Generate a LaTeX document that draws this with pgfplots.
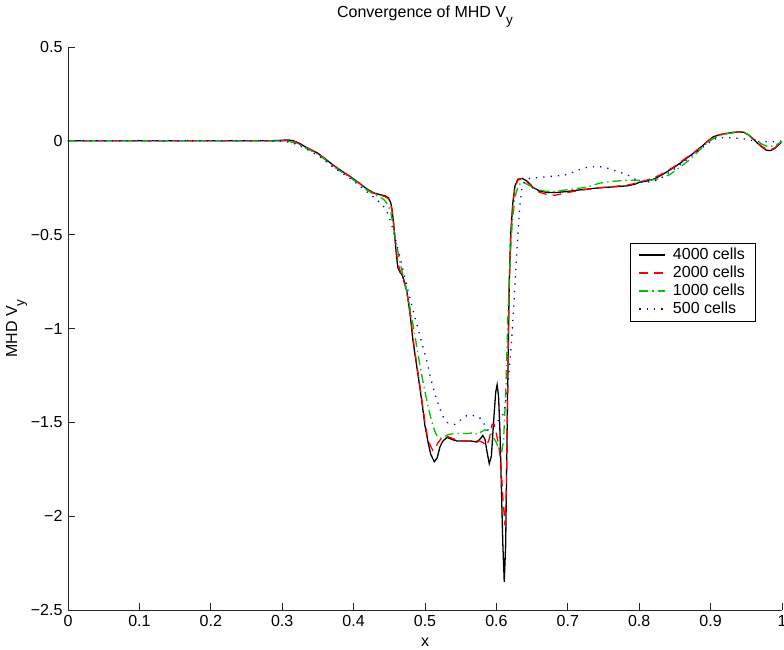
\documentclass[border=0pt]{standalone}
\usepackage{fontspec}
\setmainfont{Liberation Sans}
\usepackage{pgfplots}
\pgfplotsset{compat=1.18}
\definecolor{mgreen}{rgb}{0,0.75,0}
\newcommand\subt[1]{\raisebox{-0.45em}{\fontsize{13.5bp}{14bp}\selectfont #1}}
\begin{document}
\fontsize{16bp}{19bp}\selectfont
\begin{tikzpicture}
\begin{axis}[
  scale only axis, width=714bp, height=563bp,
  xmin=0, xmax=1, ymin=-2.5, ymax=0.5,
  axis x line=bottom, axis y line=left,
  axis line style={-, line width=0.8bp, black!85},
  tick align=inside, major tick length=7bp,
  every tick/.style={line width=0.8bp, black!85},
  xtick={0,0.1,0.2,0.3,0.4,0.5,0.6,0.7,0.8,0.9,1},
  xticklabels={0,0.1,0.2,0.3,0.4,0.5,0.6,0.7,0.8,0.9,1},
  ytick={-2.5,-2,-1.5,-1,-0.5,0,0.5},
  yticklabels={−2.5,−2,−1.5,−1,−0.5,0,0.5},
  ticklabel style={font=\fontsize{16bp}{19bp}\selectfont},
  title={Convergence of MHD V\subt{y}},
  title style={at={(axis description cs:0.5,1.044)}, anchor=center, font=\fontsize{16bp}{19bp}\selectfont},
  xlabel={x},
  xlabel style={at={(axis description cs:0.5,-0.057)}, anchor=center, font=\fontsize{16bp}{19bp}\selectfont},
  ylabel={MHD V\subt{y}},
  ylabel style={at={(axis description cs:-0.072,0.5)}, anchor=center, rotate=0, font=\fontsize{16bp}{19bp}\selectfont},
  legend style={at={(axis description cs:0.787,0.652)}, anchor=north west,
    draw=black, line width=0.8bp, fill=white,
    font=\fontsize{16bp}{18bp}\selectfont,
    inner xsep=8bp, inner ysep=3bp, row sep=0bp},
  legend cell align=left,
  legend image code/.code={\draw[#1, line width=2bp] (0bp,0bp) -- (26bp,0bp); \path (31bp,0bp);},
  every axis plot/.append style={line width=1.3bp},
]
\addplot[black, solid] coordinates {
(0,0) (0.1,0) (0.2,0) (0.28,0) (0.295,0.002) (0.308,0.005) (0.316,0.0) (0.325,-0.015) (0.335,-0.038) (0.349,-0.064) (0.36,-0.095) (0.371,-0.128) (0.383,-0.16) (0.395,-0.19) (0.407,-0.223) (0.418,-0.255) (0.428,-0.277) (0.437,-0.287) (0.444,-0.293) (0.449,-0.305) (0.452,-0.33) (0.454,-0.37) (0.456,-0.44) (0.458,-0.527) (0.460,-0.61) (0.462,-0.675) (0.465,-0.70) (0.468,-0.715) (0.472,-0.76) (0.475,-0.81) (0.479,-0.92) (0.483,-1.06) (0.488,-1.19) (0.493,-1.32) (0.497,-1.43) (0.500,-1.52) (0.504,-1.60) (0.508,-1.67) (0.513,-1.71) (0.517,-1.69) (0.521,-1.63) (0.525,-1.60) (0.531,-1.58) (0.537,-1.59) (0.545,-1.60) (0.555,-1.60) (0.565,-1.60) (0.573,-1.605) (0.578,-1.585) (0.581,-1.57) (0.584,-1.59) (0.587,-1.66) (0.590,-1.72) (0.593,-1.68) (0.596,-1.50) (0.599,-1.34) (0.601,-1.30) (0.603,-1.36) (0.605,-1.55) (0.607,-1.85) (0.609,-2.15) (0.611,-2.35) (0.613,-2.15) (0.614,-1.85) (0.616,-1.25) (0.618,-0.75) (0.620,-0.50) (0.623,-0.33) (0.626,-0.24) (0.630,-0.205) (0.636,-0.20) (0.643,-0.215) (0.652,-0.25) (0.661,-0.268) (0.671,-0.275) (0.685,-0.275) (0.699,-0.27) (0.72,-0.26) (0.745,-0.25) (0.765,-0.245) (0.783,-0.24) (0.793,-0.232) (0.801,-0.22) (0.810,-0.215) (0.820,-0.205) (0.830,-0.185) (0.839,-0.165) (0.848,-0.143) (0.857,-0.12) (0.866,-0.094) (0.876,-0.066) (0.886,-0.035) (0.895,-0.005) (0.904,0.022) (0.913,0.033) (0.923,0.04) (0.932,0.045) (0.941,0.048) (0.947,0.045) (0.953,0.032) (0.959,0.012) (0.965,-0.01) (0.972,-0.033) (0.978,-0.05) (0.984,-0.052) (0.990,-0.04) (0.995,-0.022) (1.0,-0.005)
};
\addlegendentry{4000 cells}
\addplot[red, dash pattern=on 9bp off 6bp] coordinates {
(0,0) (0.1,0) (0.2,0) (0.28,0) (0.30,0.0) (0.31,0.001) (0.318,-0.005) (0.328,-0.025) (0.338,-0.042) (0.349,-0.066) (0.36,-0.097) (0.371,-0.13) (0.383,-0.16) (0.395,-0.19) (0.407,-0.223) (0.418,-0.256) (0.428,-0.279) (0.437,-0.29) (0.444,-0.297) (0.449,-0.31) (0.452,-0.335) (0.455,-0.40) (0.458,-0.51) (0.461,-0.62) (0.464,-0.68) (0.468,-0.72) (0.472,-0.77) (0.476,-0.84) (0.480,-0.94) (0.484,-1.07) (0.488,-1.18) (0.493,-1.31) (0.497,-1.42) (0.500,-1.50) (0.503,-1.57) (0.507,-1.62) (0.511,-1.65) (0.514,-1.64) (0.518,-1.61) (0.524,-1.58) (0.531,-1.575) (0.538,-1.585) (0.545,-1.595) (0.553,-1.60) (0.565,-1.60) (0.577,-1.60) (0.582,-1.61) (0.586,-1.625) (0.590,-1.59) (0.594,-1.51) (0.597,-1.51) (0.600,-1.56) (0.603,-1.62) (0.606,-1.70) (0.609,-1.90) (0.612,-2.05) (0.614,-1.85) (0.616,-1.25) (0.618,-0.78) (0.620,-0.52) (0.623,-0.34) (0.626,-0.25) (0.630,-0.21) (0.636,-0.20) (0.643,-0.22) (0.652,-0.255) (0.661,-0.275) (0.670,-0.285) (0.682,-0.29) (0.691,-0.283) (0.700,-0.275) (0.72,-0.262) (0.745,-0.25) (0.765,-0.243) (0.783,-0.236) (0.793,-0.228) (0.801,-0.218) (0.810,-0.21) (0.820,-0.198) (0.830,-0.18) (0.839,-0.16) (0.848,-0.14) (0.857,-0.115) (0.866,-0.09) (0.876,-0.064) (0.886,-0.034) (0.895,-0.005) (0.904,0.022) (0.913,0.033) (0.923,0.04) (0.932,0.045) (0.941,0.048) (0.947,0.045) (0.953,0.032) (0.959,0.012) (0.965,-0.01) (0.972,-0.03) (0.978,-0.045) (0.984,-0.048) (0.990,-0.037) (0.995,-0.02) (1.0,-0.005)
};
\addlegendentry{2000 cells}
\addplot[mgreen, dash pattern=on 9bp off 4bp on 1.3bp off 4bp] coordinates {
(0,0) (0.1,0) (0.2,0) (0.28,0) (0.30,-0.001) (0.31,-0.004) (0.318,-0.012) (0.328,-0.03) (0.338,-0.048) (0.349,-0.07) (0.36,-0.10) (0.371,-0.135) (0.383,-0.165) (0.395,-0.195) (0.407,-0.228) (0.418,-0.26) (0.428,-0.285) (0.437,-0.30) (0.443,-0.315) (0.448,-0.34) (0.452,-0.38) (0.455,-0.44) (0.460,-0.55) (0.465,-0.65) (0.472,-0.76) (0.479,-0.89) (0.486,-1.04) (0.493,-1.20) (0.499,-1.32) (0.504,-1.41) (0.509,-1.49) (0.514,-1.55) (0.518,-1.58) (0.522,-1.585) (0.527,-1.575) (0.533,-1.565) (0.54,-1.56) (0.55,-1.56) (0.56,-1.56) (0.567,-1.555) (0.574,-1.565) (0.579,-1.55) (0.584,-1.54) (0.589,-1.545) (0.594,-1.57) (0.599,-1.60) (0.603,-1.635) (0.607,-1.665) (0.610,-1.60) (0.613,-1.35) (0.616,-0.95) (0.619,-0.65) (0.622,-0.45) (0.626,-0.30) (0.631,-0.235) (0.637,-0.22) (0.645,-0.235) (0.655,-0.255) (0.667,-0.268) (0.68,-0.27) (0.69,-0.265) (0.705,-0.258) (0.722,-0.25) (0.735,-0.237) (0.745,-0.225) (0.765,-0.215) (0.783,-0.21) (0.80,-0.21) (0.815,-0.21) (0.83,-0.2) (0.843,-0.18) (0.857,-0.14) (0.871,-0.10) (0.883,-0.055) (0.895,-0.012) (0.905,0.015) (0.915,0.03) (0.923,0.038) (0.932,0.043) (0.941,0.046) (0.947,0.043) (0.953,0.032) (0.959,0.015) (0.965,0.0) (0.972,-0.018) (0.978,-0.028) (0.984,-0.03) (0.990,-0.024) (0.995,-0.015) (1.0,-0.005)
};
\addlegendentry{1000 cells}
\addplot[blue, dash pattern=on 1.3bp off 6bp] coordinates {
(0,0) (0.1,0) (0.2,0) (0.28,0) (0.295,-0.001) (0.305,-0.004) (0.315,-0.012) (0.325,-0.027) (0.337,-0.05) (0.35,-0.077) (0.36,-0.105) (0.371,-0.14) (0.383,-0.17) (0.395,-0.20) (0.407,-0.235) (0.418,-0.27) (0.428,-0.30) (0.437,-0.33) (0.442,-0.35) (0.447,-0.38) (0.451,-0.42) (0.455,-0.47) (0.460,-0.545) (0.465,-0.62) (0.470,-0.70) (0.475,-0.78) (0.479,-0.84) (0.483,-0.90) (0.488,-0.97) (0.493,-1.04) (0.498,-1.11) (0.503,-1.18) (0.507,-1.25) (0.511,-1.31) (0.516,-1.375) (0.521,-1.43) (0.526,-1.475) (0.531,-1.50) (0.536,-1.51) (0.542,-1.51) (0.547,-1.495) (0.553,-1.48) (0.558,-1.465) (0.563,-1.46) (0.569,-1.465) (0.575,-1.47) (0.579,-1.485) (0.583,-1.51) (0.587,-1.54) (0.591,-1.54) (0.595,-1.525) (0.600,-1.50) (0.605,-1.48) (0.609,-1.46) (0.612,-1.42) (0.615,-1.33) (0.618,-1.22) (0.621,-1.08) (0.624,-0.90) (0.627,-0.70) (0.630,-0.50) (0.633,-0.34) (0.636,-0.245) (0.640,-0.21) (0.647,-0.20) (0.655,-0.197) (0.665,-0.193) (0.675,-0.19) (0.688,-0.186) (0.699,-0.18) (0.71,-0.163) (0.722,-0.145) (0.733,-0.138) (0.745,-0.138) (0.755,-0.145) (0.763,-0.155) (0.773,-0.168) (0.783,-0.18) (0.792,-0.2) (0.801,-0.22) (0.812,-0.22) (0.825,-0.21) (0.836,-0.185) (0.848,-0.154) (0.86,-0.12) (0.870,-0.09) (0.883,-0.05) (0.895,-0.018) (0.903,0.005) (0.909,0.015) (0.92,0.018) (0.931,0.016) (0.941,0.013) (0.951,0.008) (0.96,0.0) (0.97,-0.005) (0.98,-0.004) (0.99,-0.005) (1.0,0.0)
};
\addlegendentry{500 cells}
\end{axis}
\pgfresetboundingbox
\path[use as bounding box] ([shift={(-68bp,-40bp)}]current axis.south west) rectangle ([shift={(2bp,47bp)}]current axis.north east);
\end{tikzpicture}
\end{document}
